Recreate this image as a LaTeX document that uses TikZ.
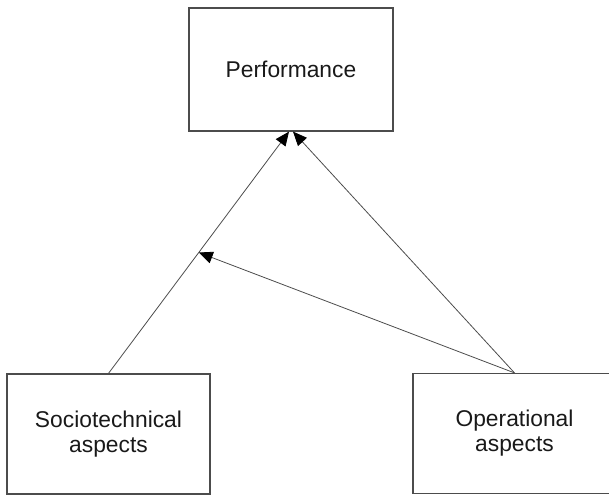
\documentclass[tikz,border=0pt]{standalone}
\usepackage{fontspec}
\setmainfont{Liberation Sans}
\usetikzlibrary{arrows.meta, calc}
\tikzstyle{block} = [rectangle, minimum width=203pt, minimum height=120pt, text centered, align=center, draw=black!70, line width=1.2pt, text=black!90, font=\fontsize{22.8}{25}\selectfont]
\tikzstyle{arrow} = [draw=black!70, line width=0.8pt, -{Triangle[length=14pt,width=12pt,color=black]}]

\begin{document}
\begin{tikzpicture}[x=1pt, y=-1pt]
	\clip (0,0) rectangle (609,496);
	\node (perf) [block, minimum width=204pt, minimum height=123pt] at (291,69.5) {Performance};
	\node (socio) [block] at (108.5,434) {Sociotechnical\\aspects};
	\node (oper) [block] at (514.5,433.5) {Operational\\aspects};
	\coordinate (tipl) at ([xshift=-2pt]perf.south);
	\coordinate (tipr) at ([xshift=2pt]perf.south);
	\coordinate (mid) at ($(socio.north)!0.5!(tipl)$);
	\draw [arrow] (socio.north) -- (tipl);
	\draw [arrow] (oper.north) -- (tipr);
	\draw [arrow] (oper.north) -- (mid);
\end{tikzpicture}
\end{document}
